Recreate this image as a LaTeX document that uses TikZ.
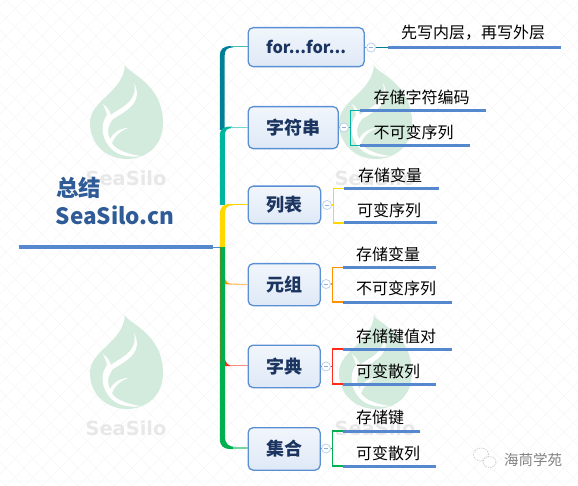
\documentclass[tikz,border=0pt]{standalone}
\usepackage{fontspec}
\setmainfont{Noto Sans CJK SC}
\newfontfamily\wmfont{DejaVu Sans}
\definecolor{boxline}{HTML}{5B8FD4}
\definecolor{ulblue}{HTML}{5588CF}
\definecolor{roottxt}{HTML}{2F5C97}
\definecolor{navy}{HTML}{1B3460}
\definecolor{leafg}{HTML}{D3EBDD}
\definecolor{cfor}{HTML}{007F97}
\definecolor{cstr}{HTML}{00B5A0}
\definecolor{clist}{HTML}{FFD800}
\definecolor{ctup}{HTML}{FF9000}
\definecolor{cdic}{HTML}{FF2A1A}
\definecolor{cset}{HTML}{00B050}
\tikzset{
  topic/.style={draw=boxline,line width=1.3pt,rounded corners=5pt,top color=white!92!boxline,bottom color=boxline!20,inner sep=0pt,font=\fontsize{18}{20}\selectfont\bfseries,text=navy,anchor=north west},
  leaf/.style={font=\fontsize{16}{18}\selectfont,text=black,inner sep=0pt},
  ul/.style={ulblue,line width=3pt},
  collapse/.style={circle,draw=boxline!45,line width=.7pt,fill=white,minimum size=9pt,inner sep=0pt,path picture={\draw[boxline!70,line width=.6pt] (path picture bounding box.center) +(-2.2,0) -- +(2.2,0);}},
  bracket/.style={line width=1.1pt},
  roottext/.style={font=\fontsize{22.5}{26}\selectfont\bfseries,text=roottxt,inner sep=0pt,anchor=west},
  wmleaf/.pic={
    \fill[leafg] (0,0) .. controls (2,8) and (38,18) .. (38,58) .. controls (38,82) and (20,94) .. (2,94) .. controls (-18,94) and (-35,80) .. (-35,58) .. controls (-35,35) and (-2,28) .. (0,0) -- cycle;
    \fill[white] (17,91) .. controls (2,93) and (-10,90) .. (-17,80) .. controls (-24,70) and (-24,58) .. (-18,50) .. controls (-19,46) and (-20,43) .. (-22,39) .. controls (-18,42) and (-15,46) .. (-14,50) .. controls (-8,44) and (14,38) .. (9,18) .. controls (18,36) and (5,44) .. (-12,54) .. controls (-18,62) and (-18,68) .. (-15,74) .. controls (-12,68) and (-5,63) .. (3,63) .. controls (-5,66) and (-11,72) .. (-13,78) .. controls (-10,85) and (5,90) .. (17,91) -- cycle;
    \node[font=\wmfont\fontsize{19.4}{21}\selectfont\bfseries,text=black!9,inner sep=0pt] at (1,113) {SeaSilo};
  },
}
\begin{document}
\begin{tikzpicture}[x=1pt,y=-1pt]
\useasboundingbox (0,0) rectangle (578,486);
% faint mesh
\begin{scope}
\clip (0,0) rectangle (578,486);
\foreach \k in {-480,-462,...,580}{
  \draw[black!3,line width=.4pt] (\k,0) -- ++(486,486);
  \draw[black!3,line width=.4pt] (\k+486,0) -- ++(-486,486);
}
\end{scope}
% watermarks
\pic at (125,65) {wmleaf};
\pic at (125,315) {wmleaf};
\pic at (374,65) {wmleaf};
\pic at (374,315) {wmleaf};
% root
\coordinate (rs) at (18.5,247);
\coordinate (re) at (212.5,247);
\coordinate (hub) at (221,247);
\draw[ul,line width=4pt] (rs) -- (re);
\draw[ulblue,line width=.9pt] (re) -- (hub);
\node[roottext] (rootA) at (56,187.5) {总结};
\node[roottext] (rootB) at (55.5,215) {SeaSilo.cn};
% topics
\node[topic,font=\fontsize{16.4}{19}\selectfont\bfseries,minimum width=116pt,minimum height=39pt] (t1) at (247.5,27) {for...for...};
\node[topic,minimum width=90pt,minimum height=42pt] (t2) at (247.5,106) {字符串};
\node[topic,minimum width=72.5pt,minimum height=37.5pt] (t3) at (247.5,185.5) {列表};
\node[topic,minimum width=72pt,minimum height=42pt] (t4) at (247.5,263) {元组};
\node[topic,minimum width=72pt,minimum height=42.5pt] (t5) at (247.5,344.5) {字典};
\node[topic,minimum width=72pt,minimum height=42.5pt] (t6) at (247.5,427) {集合};
% trunk
\fill[cset] (219.8,247) -- (225,247) -- (225,436) .. controls (225,444) and (228,446.6) .. (236,447) -- (236,449) -- (231,449) .. controls (223,449) and (219.8,446) .. (219.8,438) -- cycle;
\fill[black!45!clist,opacity=.55] (219.8,247) rectangle (221.2,362);
\fill[cfor] (219.8,130) -- (219.8,56) .. controls (219.8,49) and (223,46) .. (232,46) -- (233,47.4) .. controls (227,47.6) and (224.6,50) .. (224.6,56) -- (224.6,130) -- cycle;
\fill[cstr] (219.8,205) -- (219.8,136) .. controls (219.8,129) and (223,126.5) .. (232,126.5) -- (233,128) .. controls (227,128) and (224.8,130) .. (224.8,136) -- (224.8,205) -- cycle;
\fill[clist] (219.8,247) -- (219.8,214) .. controls (219.8,207) and (223,203.8) .. (232,203.8) -- (233,205.3) .. controls (227,205.3) and (225,208) .. (225,214) -- (225,247) -- cycle;
\fill[ctup] (225,279) .. controls (225.5,282) and (228,283.5) .. (232,284.3) -- (225,284.3) -- cycle;
\fill[cdic] (225,360) .. controls (225.5,363) and (228,365) .. (232,366) -- (225,366) -- cycle;
\draw[cfor!40!cstr!70!white,line width=1.2pt] (231,46.8) -- (t1.west |- 0,46.8);
\draw[cstr!55,line width=1.2pt] (231,127.2) -- (t2.west |- 0,127.2);
\draw[clist,line width=1.2pt] (231,204.6) -- (t3.west |- 0,204.6);
\draw[ctup!55,line width=1.2pt] (230,284) -- (t4.west);
\draw[cdic!55,line width=1.2pt] (230,365.7) -- (t5.west |- 0,365.7);
\draw[cset!55,line width=1.2pt] (233,448) -- (t6.west |- 0,448);
% collapse buttons
\node[collapse] (c1) at (371,47.5) {};
\node[collapse] (c2) at (344,127.5) {};
\node[collapse] (c3) at (327,205) {};
\node[collapse] (c4) at (326,284) {};
\node[collapse] (c5) at (326,366.5) {};
\node[collapse] (c6) at (326,448.5) {};
\foreach \t/\c/\col in {t1/c1/cfor,t2/c2/cstr,t3/c3/clist,t4/c4/ctup,t5/c5/cdic,t6/c6/cset}{
  \draw[\col!70,line width=.7pt] (\t.east |- \c.west) -- (\c.west);
}
% leaf underline end points
\coordinate (a1) at (388,47.5);   \coordinate (b1) at (561,47.5);
\coordinate (a2) at (360,110.5);  \coordinate (b2) at (485.5,110.5);
\coordinate (a3) at (360,145.5);  \coordinate (b3) at (469.5,145.5);
\coordinate (a4) at (343.5,188.5);\coordinate (b4) at (438.5,188.5);
\coordinate (a5) at (343.5,223);  \coordinate (b5) at (436.5,223);
\coordinate (a6) at (342.5,267.5);\coordinate (b6) at (435.5,267.5);
\coordinate (a7) at (342.5,302);  \coordinate (b7) at (451.5,302);
\coordinate (a8) at (342.5,349);  \coordinate (b8) at (451.5,349);
\coordinate (a9) at (342.5,384);  \coordinate (b9) at (435.5,384);
\coordinate (a10) at (342.5,431); \coordinate (b10) at (419.5,431);
\coordinate (a11) at (342.5,466); \coordinate (b11) at (435.5,466);
% connectors
\draw[cfor,line width=.9pt] (c1.east) -- (a1);
\draw[cstr,bracket] (c2.east) -- (350.5,127.5);
\draw[cstr,bracket] (a2) -- (350.5,110.5) -- (350.5,145.5) -- (a3);
\draw[clist,bracket] (c3.east) -- (333.5,205);
\draw[clist,bracket] (a4) -- (333.5,188.5) -- (333.5,223) -- (a5);
\draw[ctup,bracket] (c4.east) -- (332.5,284);
\draw[ctup,bracket] (a6) -- (332.5,267.5) -- (332.5,302) -- (a7);
\draw[cdic,bracket] (c5.east) -- (332.5,366.5);
\draw[cdic,bracket] (a8) -- (332.5,349) -- (332.5,384) -- (a9);
\draw[cset,bracket] (c6.east) -- (332.5,448.5);
\draw[cset,bracket] (a10) -- (332.5,431) -- (332.5,466) -- (a11);
% underlines
\foreach \i in {1,...,11}{ \draw[ul] (a\i) -- (b\i); }
% leaf labels
\node[leaf] (l1) at (473,33) {先写内层，再写外层};
\node[leaf] (l2) at (421.7,97) {存储字符编码};
\node[leaf] (l3) at (413.5,132) {不可变序列};
\node[leaf] (l4) at (390,175) {存储变量};
\node[leaf] (l5) at (389,210) {可变序列};
\node[leaf] (l6) at (388,254) {存储变量};
\node[leaf] (l7) at (396,288) {不可变序列};
\node[leaf] (l8) at (396,336) {存储键值对};
\node[leaf] (l9) at (388,371) {可变散列};
\node[leaf] (l10) at (380,417) {存储键};
\node[leaf] (l11) at (388,453) {可变散列};
% wechat mark
\begin{scope}[black!22,line width=.8pt,dash pattern=on 1.2pt off 1.2pt]
\draw (481,454.5) ellipse (7.5pt and 6.5pt);
\draw[fill=white] (489.5,462) ellipse (6.5pt and 5.5pt);
\end{scope}
\node[font=\fontsize{14.5}{16}\selectfont,text=black!50,inner sep=0pt,anchor=west] (wm) at (504,459.5) {海茼学苑};
\end{tikzpicture}
\end{document}
